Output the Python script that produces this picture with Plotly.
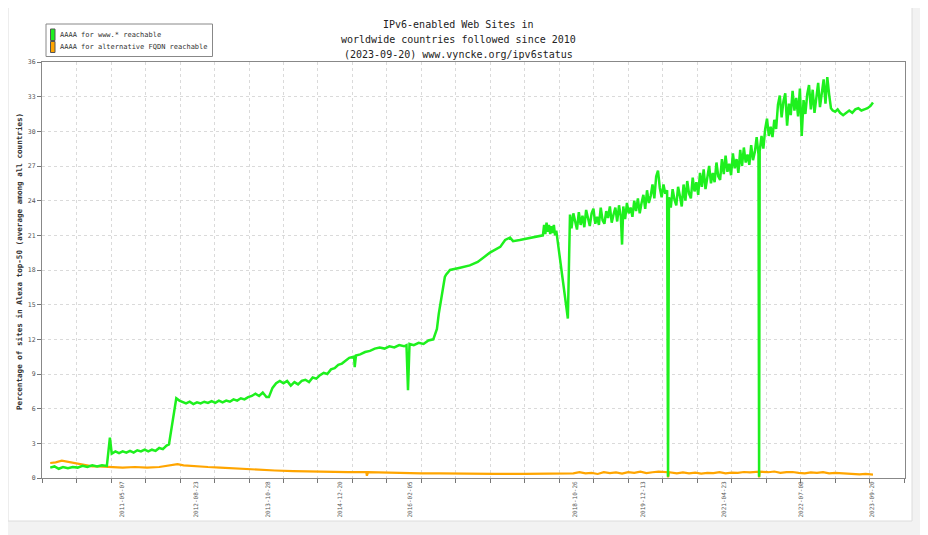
import plotly.graph_objects as go

# ---------------- data ----------------
green_x = [
    2010.21, 2010.28, 2010.35, 2010.42, 2010.50, 2010.58, 2010.66, 2010.74, 2010.82, 2010.90,
    2010.98, 2011.06, 2011.14, 2011.19, 2011.22, 2011.28, 2011.34, 2011.40, 2011.46, 2011.52,
    2011.58, 2011.64, 2011.70, 2011.76, 2011.82, 2011.88, 2011.94, 2012.00, 2012.06, 2012.12,
    2012.16, 2012.23, 2012.28, 2012.33, 2012.38, 2012.44, 2012.50, 2012.56, 2012.62, 2012.68,
    2012.74, 2012.80, 2012.86, 2012.92, 2012.98, 2013.04, 2013.10, 2013.16, 2013.22, 2013.28,
    2013.34, 2013.40, 2013.46, 2013.52, 2013.58, 2013.64, 2013.70, 2013.76, 2013.80, 2013.86,
    2013.92, 2013.98, 2014.04, 2014.10, 2014.16, 2014.22, 2014.28, 2014.34, 2014.40, 2014.46,
    2014.52, 2014.58, 2014.64, 2014.70, 2014.76, 2014.82, 2014.88, 2014.94, 2015.00, 2015.05,
    2015.12, 2015.20, 2015.21, 2015.23, 2015.30, 2015.38, 2015.46, 2015.54, 2015.62, 2015.70,
    2015.78, 2015.86, 2015.94, 2016.02, 2016.06, 2016.085, 2016.11, 2016.18, 2016.26, 2016.34,
    2016.42, 2016.50, 2016.56, 2016.59, 2016.61, 2016.64, 2016.66, 2016.69, 2016.71, 2016.775,
    2016.94, 2017.10, 2017.23, 2017.43, 2017.60, 2017.68, 2017.76, 2017.81, 2017.92, 2018.30,
    2018.32, 2018.34, 2018.36, 2018.38, 2018.40, 2018.42, 2018.44, 2018.46, 2018.48, 2018.50,
    2018.52, 2018.71, 2018.745,
    # noisy band
    2018.77, 2018.80, 2018.83, 2018.86, 2018.89, 2018.92, 2018.95, 2018.98, 2019.01, 2019.04,
    2019.07, 2019.10, 2019.13, 2019.16, 2019.19, 2019.22, 2019.25, 2019.28, 2019.31, 2019.34,
    2019.37, 2019.40, 2019.43, 2019.46, 2019.49, 2019.52, 2019.55, 2019.58, 2019.60,
    2019.62, 2019.65, 2019.68, 2019.71, 2019.74, 2019.77, 2019.80, 2019.83, 2019.86, 2019.89,
    2019.92, 2019.95, 2019.98, 2020.01, 2020.04, 2020.07, 2020.10, 2020.13, 2020.16, 2020.19,
    2020.22, 2020.25, 2020.28, 2020.31, 2020.34, 2020.355, 2020.37,
    2020.40, 2020.43, 2020.46, 2020.49, 2020.52, 2020.55, 2020.58, 2020.61, 2020.64, 2020.67,
    2020.70, 2020.73, 2020.76, 2020.79, 2020.82, 2020.85, 2020.88, 2020.91, 2020.94, 2020.97,
    2021.00, 2021.03, 2021.06, 2021.09, 2021.12, 2021.15, 2021.18, 2021.21, 2021.24, 2021.27,
    2021.30, 2021.33, 2021.36, 2021.39, 2021.42, 2021.45, 2021.48, 2021.51, 2021.54, 2021.57,
    2021.60, 2021.63, 2021.66, 2021.69, 2021.72, 2021.75, 2021.78, 2021.81, 2021.84, 2021.85,
    2021.86, 2021.89, 2021.92, 2021.95, 2021.98, 2022.01, 2022.04, 2022.07, 2022.10, 2022.13,
    2022.16, 2022.19, 2022.22, 2022.25, 2022.28, 2022.31, 2022.34, 2022.37, 2022.40, 2022.43,
    2022.46, 2022.49, 2022.52, 2022.55, 2022.58, 2022.61, 2022.64, 2022.67, 2022.70, 2022.73,
    2022.76, 2022.79, 2022.82, 2022.85, 2022.88, 2022.91, 2022.94, 2022.97, 2023.00, 2023.03,
    # calm end
    2023.06, 2023.10, 2023.14, 2023.18, 2023.23, 2023.28, 2023.33, 2023.38, 2023.43, 2023.48,
    2023.53, 2023.58, 2023.63, 2023.68, 2023.72,
]
green_y = [
    0.9, 1.0, 0.8, 0.95, 0.85, 0.95, 0.9, 1.05, 0.95, 1.1,
    1.0, 1.1, 1.05, 3.5, 2.1, 2.3, 2.15, 2.3, 2.2, 2.35,
    2.2, 2.4, 2.3, 2.45, 2.3, 2.45, 2.35, 2.6, 2.5, 2.8,
    2.9, 5.5, 6.9, 6.7, 6.6, 6.45, 6.6, 6.4, 6.55, 6.45,
    6.6, 6.5, 6.65, 6.5, 6.7, 6.55, 6.7, 6.6, 6.8, 6.7,
    6.9, 6.8, 7.0, 7.1, 7.3, 7.1, 7.4, 7.0, 7.0, 7.8,
    8.2, 8.4, 8.2, 8.4, 8.0, 8.3, 8.1, 8.4, 8.5, 8.3,
    8.7, 8.6, 8.9, 9.1, 9.0, 9.4, 9.5, 9.8, 9.9, 10.1,
    10.4, 10.5, 9.6, 10.6, 10.7, 10.9, 11.0, 11.2, 11.3, 11.2,
    11.4, 11.3, 11.5, 11.4, 11.5, 7.6, 11.6, 11.5, 11.7, 11.6,
    11.9, 12.0, 12.9, 14.2, 14.8, 15.9, 16.6, 17.4, 17.6, 18.0,
    18.2, 18.4, 18.7, 19.5, 20.0, 20.6, 20.8, 20.5, 20.6, 21.0,
    21.9, 21.1, 22.1, 21.3, 21.9, 21.1, 21.8, 21.2, 21.9, 21.0,
    21.4, 13.8, 22.8,
    # noisy band
    21.6, 22.9, 22.2, 21.5, 23.0, 21.9, 22.7, 21.7, 23.2, 22.4,
    21.8, 22.9, 23.3, 22.0, 22.6, 21.9, 23.4, 22.3, 22.0, 23.1,
    22.5, 23.5, 22.1, 22.8, 23.4, 22.2, 23.6, 22.6, 20.2,
    23.5, 22.4, 23.8, 22.9, 23.4, 22.6, 24.0, 23.1, 24.2, 22.9,
    23.8, 24.5, 23.3, 24.9, 23.8, 24.4, 25.4, 24.2, 26.1, 26.6,
    25.1, 24.3, 25.4, 24.6, 24.9, 0.1, 24.3,
    23.4, 25.0, 24.1, 23.6, 25.2, 24.4, 23.5, 25.4, 24.0, 25.7,
    24.6, 24.2, 26.0, 24.8, 25.6, 24.5, 26.4, 25.2, 26.7, 25.0,
    26.0, 27.0, 25.5, 26.4, 25.6, 27.3, 26.1, 25.8, 27.6, 26.3,
    27.9, 26.5, 27.2, 26.2, 28.1, 26.8, 27.6, 26.4, 28.4, 27.0,
    28.6, 27.3, 28.0, 27.1, 28.8, 27.5, 28.2, 29.5, 28.0, 0.1,
    28.3, 29.6, 28.5, 30.2, 31.1, 29.6, 30.4, 29.5, 31.0, 30.2,
    32.3, 33.1, 31.2, 32.6, 33.3, 30.5, 32.4, 31.4, 33.5, 31.8,
    32.9, 31.3, 33.7, 29.6, 32.7, 31.5, 33.2, 34.0, 31.9, 33.6,
    31.6, 32.8, 34.2, 32.1, 33.5, 34.5, 32.4, 34.7, 33.2, 32.0,
    # calm end
    31.8, 31.7, 31.9, 31.6, 31.4, 31.6, 31.8, 31.6, 31.9, 32.0,
    31.8, 31.9, 32.0, 32.2, 32.5,
]

orange_x = [
    2010.21, 2010.30, 2010.40, 2010.50, 2010.60, 2010.70, 2010.80, 2010.90, 2011.00, 2011.20,
    2011.40, 2011.60, 2011.80, 2012.00, 2012.20, 2012.30, 2012.40, 2012.60, 2012.80, 2013.00,
    2013.30, 2013.60, 2013.90, 2014.20, 2014.50, 2014.80, 2015.10, 2015.40, 2015.41, 2015.43,
    2015.70, 2016.00, 2016.30, 2016.60, 2017.00, 2017.50, 2018.00, 2018.50, 2018.80, 2018.90,
    2019.00, 2019.10, 2019.20, 2019.30, 2019.40, 2019.50, 2019.60, 2019.70, 2019.80, 2019.90,
    2020.00, 2020.10, 2020.20, 2020.35, 2020.355, 2020.37, 2020.50, 2020.60, 2020.70, 2020.80,
    2020.90, 2021.00, 2021.10, 2021.20, 2021.30, 2021.40, 2021.50, 2021.60, 2021.70, 2021.845,
    2021.85, 2021.86, 2022.00, 2022.10, 2022.20, 2022.30, 2022.40, 2022.50, 2022.60, 2022.70,
    2022.80, 2022.90, 2023.00, 2023.10, 2023.20, 2023.30, 2023.40, 2023.50, 2023.60, 2023.72,
]
orange_y = [
    1.3, 1.35, 1.5, 1.4, 1.3, 1.15, 1.05, 1.0, 1.0, 0.95,
    0.9, 0.95, 0.9, 0.95, 1.1, 1.2, 1.1, 1.0, 0.95, 0.9,
    0.8, 0.7, 0.65, 0.6, 0.55, 0.5, 0.5, 0.5, 0.2, 0.5,
    0.45, 0.45, 0.4, 0.4, 0.35, 0.35, 0.35, 0.35, 0.4, 0.5,
    0.4, 0.45, 0.35, 0.5, 0.42, 0.48, 0.38, 0.5, 0.45, 0.55,
    0.42, 0.5, 0.55, 0.5, 0.05, 0.5, 0.4, 0.48, 0.4, 0.46,
    0.38, 0.45, 0.42, 0.5, 0.4, 0.47, 0.44, 0.52, 0.48, 0.55,
    0.05, 0.55, 0.5, 0.56, 0.45, 0.5, 0.52, 0.44, 0.4, 0.48,
    0.45, 0.5, 0.4, 0.44, 0.4, 0.36, 0.38, 0.32, 0.35, 0.3,
]

x_tick_vals = [2011.384, 2012.604, 2013.791, 2014.968, 2016.118,
               2018.827, 2019.949, 2021.279, 2022.538, 2023.699]
x_tick_text = ["2011-05-07", "2012-08-23", "2013-10-28", "2014-12-20", "2016-02-05",
               "2018-10-26", "2019-12-13", "2021-04-23", "2022-07-08", "2023-09-20"]
y_tick_vals = [0, 3, 6, 9, 12, 15, 18, 21, 24, 27, 30, 33, 36]

title_lines = ["IPv6-enabled Web Sites in",
               "worldwide countries followed since 2010",
               "(2023-09-20) www.vyncke.org/ipv6status"]
series_names = ["AAAA for www.* reachable", "AAAA for alternative FQDN reachable"]
y_title = "Percentage of sites in Alexa top-50 (average among all countries)"

GREEN = "#1ef01e"
ORANGE = "#ffa500"
MONO = "DejaVu Sans Mono"

# ---------------- figure ----------------
# the page body has an 8px margin, so the figure is shifted by 8px
W, H = 920, 527
L, R, T, B = 34, 23, 54, 57
PW, PH = W - L - R, H - T - B


def px(x):  # page pixel -> paper
    return (x - 8 - L) / PW


def py(y):
    return (H - B - (y - 8)) / PH


fig = go.Figure()
fig.add_trace(go.Scatter(x=orange_x, y=orange_y, mode="lines",
                         line=dict(color=ORANGE, width=2.2), name=series_names[1],
                         showlegend=False))
fig.add_trace(go.Scatter(x=green_x, y=green_y, mode="lines",
                         line=dict(color=GREEN, width=2.5), name=series_names[0],
                         showlegend=False))

shapes = [
    dict(type="rect", xref="paper", yref="paper", x0=px(8), x1=px(912), y0=py(521), y1=py(4),
         fillcolor="white", line=dict(color="#dcdcdc", width=1), layer="below"),
    dict(type="rect", xref="paper", yref="paper", x0=px(46), x1=px(212.5), y0=py(56.5), y1=py(24),
         fillcolor="white", line=dict(color="#888888", width=1)),
    dict(type="rect", xref="paper", yref="paper", x0=px(50.5), x1=px(55), y0=py(40.5), y1=py(29),
         fillcolor=GREEN, line=dict(color="#555555", width=1)),
    dict(type="rect", xref="paper", yref="paper", x0=px(50.5), x1=px(55), y0=py(52.5), y1=py(41.5),
         fillcolor=ORANGE, line=dict(color="#555555", width=1)),
]

annotations = []
for t, yy in zip(title_lines, [25, 39.5, 54]):
    annotations.append(dict(text=t, xref="paper", yref="paper", x=px(458), y=py(yy),
                            xanchor="center", yanchor="middle", showarrow=False,
                            font=dict(family=MONO, size=10, color="#222222")))
for t, yy in zip(series_names, [35, 47]):
    annotations.append(dict(text=t, xref="paper", yref="paper", x=px(58), y=py(yy),
                            xanchor="left", yanchor="middle", showarrow=False,
                            font=dict(family=MONO, size=7, color="#333333")))
annotations.append(dict(text="<b>" + y_title + "</b>", xref="paper", yref="paper",
                        x=px(20), y=py(262), xanchor="center", yanchor="middle",
                        textangle=-90, showarrow=False,
                        font=dict(family=MONO, size=7.6, color="#333333")))

fig.update_layout(
    width=W, height=H,
    margin=dict(l=L, r=R, t=T, b=B, pad=0, autoexpand=False),
    paper_bgcolor="#f2f2f2",
    plot_bgcolor="white",
    shapes=shapes,
    annotations=annotations,
    showlegend=False,
    xaxis=dict(
        range=[2010.075, 2024.246], showgrid=False, zeroline=False,
        tickmode="array", tickvals=x_tick_vals, ticktext=x_tick_text,
        tickangle=-90, ticks="", tickfont=dict(family=MONO, size=6, color="#555555"),
        showline=True, linecolor="#888888", linewidth=1, mirror=True,
        minor=dict(tick0=2010.075, dtick=0.5665, ticks="outside", ticklen=4,
                   tickcolor="#777777", showgrid=True, griddash="dot",
                   gridcolor="#dadada", gridwidth=1),
    ),
    yaxis=dict(
        range=[0, 36], tickmode="array", tickvals=y_tick_vals,
        ticks="outside", ticklen=4, tickcolor="#777777",
        tickfont=dict(family=MONO, size=6.5, color="#555555"),
        showgrid=True, griddash="dot", gridcolor="#dadada", gridwidth=1,
        zeroline=False, showline=True, linecolor="#888888", linewidth=1, mirror=True,
    ),
)

fig.write_html("out.html")
